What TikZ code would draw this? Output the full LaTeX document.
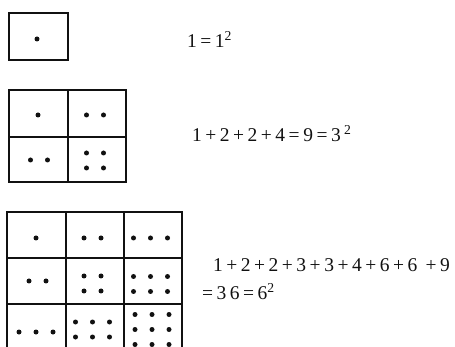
\documentclass[tikz,border=0pt]{standalone}
\usepackage{fontspec}
\setmainfont{Liberation Serif}
\newfontfamily\sumfamily[LetterSpace=18]{Liberation Serif}
\usepackage{xcolor}
\usepackage{tikz}
\usetikzlibrary{positioning,calc}
\definecolor{ink}{HTML}{111111}
\newcommand{\sumfont}{\sumfamily\fontsize{19.5}{23}\selectfont}
% dots of one cell: centre x, centre y, columns, rows
\newcommand{\pips}[4]{%
  \foreach \i in {1,...,#3}{%
    \foreach \j in {1,...,#4}{%
      \fill[pip] ({#1+(\i-(#3+1)/2)*17},{#2+(\j-(#4+1)/2)*15}) circle (2.5pt);}}}
\tikzset{
  cellbox/.style={draw=ink, line width=1.5pt},
  pip/.style={fill=ink},
  sumtext/.style={anchor=base west, inner sep=0pt, text=ink, font=\sumfont}
}

\begin{document}
\begin{tikzpicture}[x=1pt, y=-1pt]
  \useasboundingbox (0,0) rectangle (455,347);
  \clip (0,0) rectangle (455,347);
  % one cell
  \draw[cellbox] (9,13) rectangle (68,60);
  \pips{37}{39}{1}{1}
  \node[sumtext] (sqone) at (187,48) {1=1\textsuperscript{2}};
  % two by two
  \draw[cellbox] (9,90) rectangle (126,182);
  \draw[cellbox] (68,90) -- (68,182);
  \draw[cellbox] (9,137) -- (126,137);
  \pips{38}{115}{1}{1}
  \pips{95}{115}{2}{1}
  \pips{39}{160}{2}{1}
  \pips{95}{160.5}{2}{2}
  \node[sumtext] (sqtwo) at (192,142) {1+2+2+4=9=3\,\textsuperscript{2}};
  % three by three
  \draw[cellbox] (7,212) rectangle (182,350);
  \foreach \x in {66,124} \draw[cellbox] (\x,212) -- (\x,350);
  \foreach \y in {258,304} \draw[cellbox] (7,\y) -- (182,\y);
  \pips{36}{238}{1}{1}
  \pips{92.5}{238}{2}{1}
  \pips{150.5}{238}{3}{1}
  \pips{37.5}{281}{2}{1}
  \pips{92.5}{283.5}{2}{2}
  \pips{150.5}{284}{3}{2}
  \pips{36}{332}{3}{1}
  \pips{92.5}{329.5}{3}{2}
  \pips{152}{329.5}{3}{3}
  \node[sumtext] (sumthree) at (213,272) {1+2+2+3+3+4+6+6 +9};
  \node[sumtext] (sqthree) at (202,300) {=36=6\textsuperscript{2}};
\end{tikzpicture}
\end{document}
